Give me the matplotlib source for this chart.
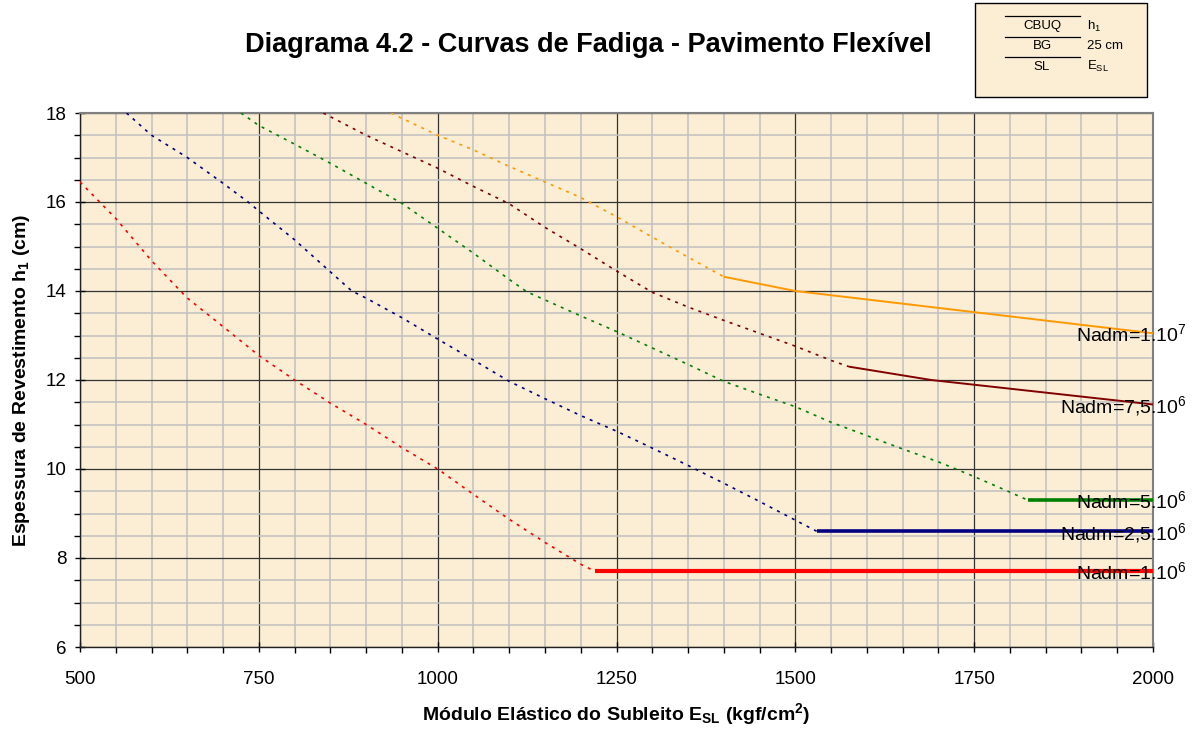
import numpy as np
import matplotlib
matplotlib.use('Agg')
import matplotlib.pyplot as plt
import matplotlib.ticker as ticker
from matplotlib.patches import Rectangle
from matplotlib.lines import Line2D

plt.rcParams['font.family'] = ['Liberation Sans', 'DejaVu Sans']
plt.rcParams['mathtext.fontset'] = 'custom'
plt.rcParams['mathtext.rm'] = 'Liberation Sans'
plt.rcParams['mathtext.it'] = 'Liberation Sans:italic'
plt.rcParams['mathtext.bf'] = 'Liberation Sans:bold'

# fatigue curves: dotted part (extrapolated) and solid part, E_SL (kgf/cm2) vs h1 (cm)
e_1e6_dot = [500, 550, 600, 650, 700, 750, 800, 850, 900, 950, 1000, 1050, 1100, 1150, 1200, 1220]
h_1e6_dot = [16.45, 15.63, 14.68, 13.84, 13.2, 12.55, 12.0, 11.48, 11.0, 10.48, 10.0, 9.43, 8.87, 8.35, 7.86, 7.7]
e_1e6 = [1220, 2000]
h_1e6 = [7.7, 7.7]

e_25e6_dot = [565, 600, 650, 700, 735, 750, 800, 850, 880, 900, 950, 1000, 1050, 1100, 1150,
              1200, 1250, 1300, 1350, 1400, 1450, 1500, 1530]
h_25e6_dot = [18.0, 17.5, 17.0, 16.42, 16.0, 15.8, 15.15, 14.43, 14.0, 13.84, 13.4, 12.92, 12.45, 11.97, 11.58,
              11.2, 10.85, 10.47, 10.08, 9.68, 9.27, 8.85, 8.6]
e_25e6 = [1530, 2000]
h_25e6 = [8.6, 8.6]

e_5e6_dot = [725, 750, 800, 850, 900, 950, 1000, 1050, 1100, 1125, 1150, 1200, 1250, 1300, 1350,
             1400, 1450, 1500, 1550, 1600, 1650, 1700, 1750, 1800, 1825]
h_5e6_dot = [18.0, 17.72, 17.3, 16.87, 16.42, 15.97, 15.41, 14.85, 14.26, 13.98, 13.8, 13.44, 13.09, 12.72, 12.35,
             11.97, 11.68, 11.4, 11.05, 10.75, 10.45, 10.16, 9.83, 9.48, 9.3]
e_5e6 = [1825, 2000]
h_5e6 = [9.3, 9.3]

e_75e6_dot = [840, 900, 950, 1000, 1050, 1100, 1150, 1200, 1250, 1300, 1350, 1400, 1450, 1500, 1550, 1575]
h_75e6_dot = [18.0, 17.5, 17.13, 16.76, 16.35, 15.96, 15.43, 14.95, 14.45, 13.97, 13.64, 13.34, 13.05, 12.76, 12.44, 12.3]
e_75e6 = [1575, 1690, 2000]
h_75e6 = [12.3, 12.0, 11.45]

e_1e7_dot = [935, 950, 1000, 1050, 1100, 1150, 1200, 1250, 1300, 1350, 1400]
h_1e7_dot = [18.0, 17.88, 17.5, 17.17, 16.8, 16.45, 16.1, 15.67, 15.21, 14.76, 14.32]
e_1e7 = [1400, 1500, 2000]
h_1e7 = [14.32, 14.0, 13.05]

labels = ['Nadm=1.10$^{6}$', 'Nadm=2,5.10$^{6}$', 'Nadm=5.10$^{6}$',
          'Nadm=7,5.10$^{6}$', 'Nadm=1.10$^{7}$']

curves = [
    (e_1e6_dot, h_1e6_dot, e_1e6, h_1e6, '#FF0000', 3.0),
    (e_25e6_dot, h_25e6_dot, e_25e6, h_25e6, '#000080', 2.6),
    (e_5e6_dot, h_5e6_dot, e_5e6, h_5e6, '#008000', 2.6),
    (e_75e6_dot, h_75e6_dot, e_75e6, h_75e6, '#800000', 1.4),
    (e_1e7_dot, h_1e7_dot, e_1e7, h_1e7, '#FF9900', 1.4),
]

bg = '#FBEED5'

fig = plt.figure(figsize=(11.99, 7.31), dpi=100)
ax = fig.add_axes([80/1199, 1 - 647/731, (1153 - 80)/1199, (647 - 113)/731])
ax.set_facecolor(bg)
ax.set_xlim(500, 2000)
ax.set_ylim(6, 18)

ax.xaxis.set_major_locator(ticker.MultipleLocator(250))
ax.xaxis.set_minor_locator(ticker.MultipleLocator(50))
ax.yaxis.set_major_locator(ticker.MultipleLocator(2))
ax.yaxis.set_minor_locator(ticker.MultipleLocator(0.5))
ax.grid(which='minor', color='#C0C0C0', lw=1.1, zorder=0)
ax.grid(which='major', color='#333333', lw=0.9, zorder=0.5)
ax.set_axisbelow(True)

ax.tick_params(which='major', direction='inout', length=7, width=1, labelsize=13.5)
ax.tick_params(axis='x', which='major', pad=14)
ax.tick_params(axis='y', which='major', pad=6)
ax.tick_params(which='minor', direction='out', length=4, width=1)
for s in ['top', 'right']:
    ax.spines[s].set_color('#808080')
    ax.spines[s].set_linewidth(1.5)
for s in ['left', 'bottom']:
    ax.spines[s].set_color('#202020')
    ax.spines[s].set_linewidth(1.0)

for (xd, yd, xs, ys, c, w), lab in zip(curves, labels):
    ax.plot(xd, yd, color=c, lw=1.2, ls=(0, (1.8, 3.2)), zorder=3)
    ax.plot(xs, ys, color=c, lw=w, solid_capstyle='butt', zorder=3)
    ax.annotate(lab, xy=(1, ys[-1]), xycoords=('axes fraction', 'data'),
                xytext=(34, -8), textcoords='offset pixels',
                ha='right', va='baseline', fontsize=14, zorder=4,
                annotation_clip=False)

ax.set_xlabel(r'Módulo Elástico do Subleito E$_{\mathbf{SL}}$ (kgf/cm$^{\mathbf{2}}$)',
              fontsize=14, fontweight='bold', labelpad=9)
ax.set_ylabel(r'Espessura de Revestimento h$_{\mathbf{1}}$ (cm)',
              fontsize=14, fontweight='bold', labelpad=10)
fig.text(588/1199, 1 - 45/731, 'Diagrama 4.2 - Curvas de Fadiga - Pavimento Flexível',
         ha='center', va='center', fontsize=19.5, fontweight='bold')

# layer sketch in the upper right corner
box = Rectangle((975/1199, 1 - 97/731), (1147 - 975)/1199, (97 - 3)/731,
                transform=fig.transFigure, facecolor=bg, edgecolor='black', lw=1.0)
fig.patches.append(box)
for yl in [16, 36.5, 57.3]:
    fig.lines.append(Line2D([1005/1199, 1080/1199], [1 - yl/731, 1 - yl/731],
                            transform=fig.transFigure, color='black', lw=0.9))
layers = ['CBUQ', 'BG', 'SL']
layer_info = [r'h$_{\mathrm{1}}$', '25 cm', r'E$_{\mathrm{SL}}$']
for i, (ln, li) in enumerate(zip(layers, layer_info)):
    yt = 1 - (26 + 20.3*i)/731
    fig.text(1042/1199, yt, ln, ha='center', va='center', fontsize=9.5)
    fig.text(1087/1199, yt, li, ha='left', va='center', fontsize=9.5)

fig.savefig('out.png', dpi=100)
